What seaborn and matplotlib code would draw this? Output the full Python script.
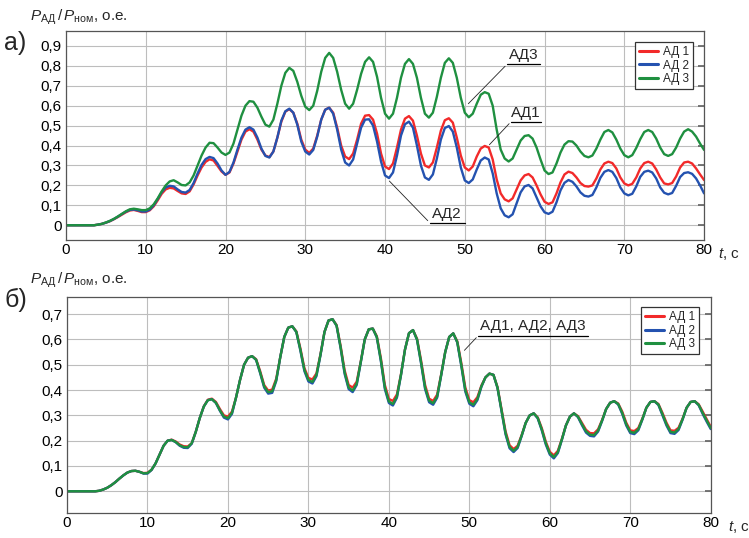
import numpy as np
import matplotlib
matplotlib.use("Agg")
import matplotlib.pyplot as plt
import seaborn as sns
from matplotlib.ticker import FuncFormatter

sns.set_theme(style="whitegrid")
plt.rcParams['font.family'] = ['Liberation Sans', 'DejaVu Sans']
plt.rcParams['mathtext.fontset'] = 'custom'
plt.rcParams['mathtext.rm'] = 'Liberation Sans'
plt.rcParams['mathtext.it'] = 'Liberation Sans:italic'

# время, с (шаг 0,5 с)
t = np.arange(0, 80.5, 0.5)

# а) P_АД / P_ном, о.е.
a_ad1 = [0, 0, 0, 0, 0, 0, 0, 0, 0.003, 0.007,
         0.013, 0.02, 0.03, 0.041, 0.053, 0.065, 0.074, 0.077, 0.072, 0.066,
         0.066, 0.075, 0.095, 0.125, 0.158, 0.18, 0.188, 0.185, 0.172, 0.16,
         0.157, 0.17, 0.205, 0.25, 0.29, 0.318, 0.331, 0.325, 0.298, 0.27,
         0.253, 0.265, 0.31, 0.37, 0.43, 0.47, 0.482, 0.47, 0.43, 0.38,
         0.35, 0.342, 0.37, 0.44, 0.52, 0.57, 0.583, 0.565, 0.51, 0.43,
         0.38, 0.363, 0.385, 0.45, 0.53, 0.58, 0.59, 0.565, 0.49, 0.4,
         0.345, 0.332, 0.36, 0.43, 0.51, 0.55, 0.553, 0.53, 0.46, 0.36,
         0.295, 0.282, 0.31, 0.39, 0.48, 0.535, 0.548, 0.525, 0.45, 0.36,
         0.3, 0.29, 0.315, 0.39, 0.475, 0.527, 0.537, 0.515, 0.44, 0.35,
         0.29, 0.275, 0.295, 0.345, 0.385, 0.398, 0.39, 0.33, 0.23, 0.16,
         0.13, 0.12, 0.135, 0.18, 0.225, 0.25, 0.257, 0.24, 0.2, 0.155,
         0.118, 0.107, 0.115, 0.16, 0.215, 0.255, 0.269, 0.262, 0.24, 0.212,
         0.197, 0.194, 0.2, 0.235, 0.28, 0.31, 0.319, 0.312, 0.285, 0.24,
         0.21, 0.2, 0.208, 0.24, 0.285, 0.312, 0.319, 0.31, 0.28, 0.24,
         0.21, 0.205, 0.212, 0.245, 0.29, 0.315, 0.319, 0.31, 0.285, 0.255,
         0.227]

a_ad2 = [0, 0, 0, 0, 0, 0, 0, 0, 0.003, 0.007,
         0.013, 0.021, 0.031, 0.043, 0.056, 0.068, 0.077, 0.079, 0.075, 0.069,
         0.069, 0.078, 0.1, 0.132, 0.166, 0.19, 0.198, 0.195, 0.18, 0.167,
         0.164, 0.177, 0.212, 0.26, 0.303, 0.332, 0.343, 0.337, 0.31, 0.275,
         0.253, 0.268, 0.315, 0.38, 0.44, 0.48, 0.492, 0.48, 0.44, 0.385,
         0.348, 0.34, 0.37, 0.44, 0.525, 0.572, 0.585, 0.565, 0.505, 0.42,
         0.37, 0.355, 0.378, 0.445, 0.53, 0.58, 0.59, 0.56, 0.48, 0.38,
         0.315, 0.3, 0.33, 0.41, 0.49, 0.53, 0.532, 0.5, 0.42, 0.32,
         0.25, 0.237, 0.265, 0.35, 0.45, 0.507, 0.52, 0.49, 0.4, 0.3,
         0.24, 0.228, 0.255, 0.335, 0.43, 0.488, 0.498, 0.47, 0.39, 0.29,
         0.225, 0.212, 0.23, 0.28, 0.325, 0.34, 0.33, 0.26, 0.16, 0.085,
         0.05, 0.04, 0.055, 0.11, 0.165, 0.195, 0.202, 0.185, 0.14, 0.095,
         0.065, 0.057, 0.068, 0.115, 0.175, 0.213, 0.227, 0.218, 0.195, 0.165,
         0.148, 0.144, 0.152, 0.19, 0.238, 0.268, 0.277, 0.268, 0.237, 0.19,
         0.16, 0.15, 0.158, 0.195, 0.243, 0.268, 0.274, 0.265, 0.235, 0.19,
         0.163, 0.155, 0.162, 0.198, 0.242, 0.262, 0.266, 0.258, 0.235, 0.2,
         0.16]

a_ad3 = [0, 0, 0, 0, 0, 0, 0, 0, 0.003, 0.007,
         0.014, 0.022, 0.032, 0.044, 0.057, 0.07, 0.08, 0.083, 0.08, 0.076,
         0.076, 0.085, 0.105, 0.135, 0.17, 0.2, 0.22, 0.226, 0.215, 0.202,
         0.2, 0.215, 0.25, 0.3, 0.35, 0.39, 0.414, 0.412, 0.39, 0.365,
         0.353, 0.365, 0.41, 0.48, 0.55, 0.6, 0.623, 0.62, 0.59, 0.545,
         0.505, 0.495, 0.53, 0.61, 0.7, 0.765, 0.79, 0.775, 0.72, 0.65,
         0.595, 0.578, 0.6, 0.675, 0.77, 0.84, 0.865, 0.84, 0.77, 0.68,
         0.61, 0.585, 0.61, 0.68, 0.76, 0.82, 0.843, 0.82, 0.745, 0.64,
         0.56, 0.535, 0.56, 0.64, 0.74, 0.81, 0.834, 0.81, 0.74, 0.64,
         0.56, 0.54, 0.565, 0.645, 0.74, 0.815, 0.838, 0.815, 0.74, 0.64,
         0.565, 0.542, 0.56, 0.61, 0.655, 0.668, 0.66, 0.6, 0.48, 0.38,
         0.335, 0.32, 0.335, 0.38, 0.425, 0.448, 0.452, 0.435, 0.39, 0.33,
         0.275, 0.257, 0.265, 0.31, 0.365, 0.405, 0.422, 0.42, 0.4, 0.37,
         0.348, 0.341, 0.35, 0.385, 0.43, 0.468, 0.478, 0.466, 0.43, 0.385,
         0.352, 0.341, 0.352, 0.388, 0.432, 0.468, 0.478, 0.468, 0.435, 0.39,
         0.357, 0.348, 0.357, 0.39, 0.435, 0.47, 0.482, 0.47, 0.445, 0.41,
         0.378]

# б) P_АД / P_ном, о.е.
b_ad1 = [0, 0, 0, 0, 0, 0, 0, 0, 0.002, 0.007,
         0.014, 0.024, 0.036, 0.05, 0.063, 0.074, 0.08, 0.081, 0.077, 0.072,
         0.073, 0.085, 0.11, 0.145, 0.18, 0.2, 0.204, 0.197, 0.185, 0.178,
         0.177, 0.19, 0.235, 0.29, 0.336, 0.362, 0.366, 0.353, 0.325, 0.3,
         0.295, 0.315, 0.37, 0.44, 0.5, 0.528, 0.534, 0.522, 0.475, 0.42,
         0.398, 0.402, 0.445, 0.53, 0.61, 0.647, 0.652, 0.632, 0.565, 0.487,
         0.448, 0.442, 0.466, 0.542, 0.63, 0.675, 0.68, 0.657, 0.575, 0.478,
         0.42, 0.41, 0.433, 0.512, 0.6, 0.64, 0.643, 0.613, 0.527, 0.42,
         0.365, 0.357, 0.383, 0.462, 0.56, 0.625, 0.637, 0.603, 0.517, 0.42,
         0.366, 0.357, 0.382, 0.462, 0.55, 0.61, 0.624, 0.593, 0.507, 0.41,
         0.36, 0.352, 0.372, 0.418, 0.45, 0.465, 0.46, 0.412, 0.325, 0.237,
         0.182, 0.167, 0.18, 0.222, 0.27, 0.3, 0.308, 0.292, 0.25, 0.196,
         0.156, 0.142, 0.16, 0.207, 0.26, 0.295, 0.308, 0.297, 0.27, 0.243,
         0.23, 0.229, 0.245, 0.282, 0.325, 0.35, 0.356, 0.347, 0.315, 0.271,
         0.241, 0.238, 0.25, 0.287, 0.33, 0.353, 0.356, 0.345, 0.31, 0.271,
         0.241, 0.239, 0.251, 0.287, 0.33, 0.353, 0.356, 0.344, 0.315, 0.285,
         0.255]

b_ad2 = [0, 0, 0, 0, 0, 0, 0, 0, 0.002, 0.007,
         0.014, 0.024, 0.036, 0.05, 0.063, 0.074, 0.08, 0.081, 0.077, 0.07,
         0.07, 0.084, 0.11, 0.145, 0.18, 0.2, 0.203, 0.194, 0.18, 0.172,
         0.171, 0.188, 0.235, 0.29, 0.335, 0.36, 0.364, 0.349, 0.318, 0.291,
         0.284, 0.306, 0.37, 0.44, 0.5, 0.528, 0.534, 0.519, 0.467, 0.41,
         0.386, 0.389, 0.436, 0.53, 0.61, 0.647, 0.652, 0.629, 0.556, 0.475,
         0.434, 0.426, 0.455, 0.538, 0.63, 0.675, 0.68, 0.654, 0.566, 0.464,
         0.404, 0.392, 0.42, 0.508, 0.6, 0.64, 0.643, 0.608, 0.515, 0.404,
         0.349, 0.339, 0.37, 0.458, 0.56, 0.625, 0.637, 0.598, 0.505, 0.404,
         0.352, 0.342, 0.37, 0.458, 0.55, 0.61, 0.624, 0.588, 0.495, 0.394,
         0.346, 0.336, 0.36, 0.413, 0.45, 0.465, 0.46, 0.408, 0.316, 0.225,
         0.17, 0.155, 0.171, 0.218, 0.27, 0.3, 0.308, 0.288, 0.241, 0.185,
         0.145, 0.13, 0.151, 0.203, 0.26, 0.295, 0.308, 0.293, 0.261, 0.232,
         0.219, 0.217, 0.236, 0.278, 0.325, 0.35, 0.356, 0.343, 0.306, 0.26,
         0.23, 0.226, 0.241, 0.283, 0.33, 0.353, 0.356, 0.341, 0.301, 0.26,
         0.23, 0.227, 0.242, 0.283, 0.33, 0.353, 0.356, 0.34, 0.306, 0.275,
         0.246]

b_ad3 = [0, 0, 0, 0, 0, 0, 0, 0, 0.002, 0.007,
         0.014, 0.024, 0.036, 0.05, 0.063, 0.074, 0.08, 0.081, 0.077, 0.071,
         0.072, 0.085, 0.11, 0.145, 0.18, 0.2, 0.203, 0.195, 0.182, 0.175,
         0.174, 0.19, 0.235, 0.29, 0.335, 0.36, 0.364, 0.35, 0.32, 0.295,
         0.289, 0.31, 0.37, 0.44, 0.5, 0.528, 0.534, 0.52, 0.47, 0.415,
         0.392, 0.395, 0.44, 0.53, 0.61, 0.647, 0.652, 0.63, 0.56, 0.48,
         0.44, 0.432, 0.46, 0.54, 0.63, 0.675, 0.68, 0.655, 0.57, 0.47,
         0.41, 0.398, 0.425, 0.51, 0.6, 0.64, 0.643, 0.61, 0.52, 0.41,
         0.355, 0.345, 0.375, 0.46, 0.56, 0.625, 0.637, 0.6, 0.51, 0.41,
         0.358, 0.348, 0.375, 0.46, 0.55, 0.61, 0.624, 0.59, 0.5, 0.4,
         0.352, 0.342, 0.365, 0.415, 0.45, 0.465, 0.46, 0.41, 0.32, 0.23,
         0.175, 0.16, 0.175, 0.22, 0.27, 0.3, 0.308, 0.29, 0.245, 0.19,
         0.15, 0.135, 0.155, 0.205, 0.26, 0.295, 0.308, 0.295, 0.265, 0.237,
         0.224, 0.222, 0.24, 0.28, 0.325, 0.35, 0.356, 0.345, 0.31, 0.265,
         0.235, 0.231, 0.245, 0.285, 0.33, 0.353, 0.356, 0.343, 0.305, 0.265,
         0.235, 0.232, 0.246, 0.285, 0.33, 0.353, 0.356, 0.342, 0.31, 0.28,
         0.25]

labels = ['АД 1', 'АД 2', 'АД 3']
colors = ['#f22a2a', '#2452b0', '#1f9040']
x_ticks = list(range(0, 81, 10))
a_yticks = [0, 0.1, 0.2, 0.3, 0.4, 0.5, 0.6, 0.7, 0.8, 0.9]
b_yticks = [0, 0.1, 0.2, 0.3, 0.4, 0.5, 0.6, 0.7]

comma = FuncFormatter(lambda v, p: '0' if abs(v) < 1e-9 else f'{v:.1f}'.replace('.', ','))

fig = plt.figure(figsize=(7.49, 5.38), dpi=100)
ax1 = fig.add_axes([0.0881, 0.5539, 0.8519, 0.3885])
ax2 = fig.add_axes([0.0895, 0.0459, 0.8594, 0.4026])


def style(ax, yticks, ylim):
    ax.set_facecolor('white')
    ax.set_xlim(0, 80)
    ax.set_ylim(*ylim)
    ax.set_xticks(x_ticks)
    ax.set_yticks(yticks)
    ax.yaxis.set_major_formatter(comma)
    ax.grid(True, color='#bdbdbd', lw=0.8)
    ax.tick_params(axis='both', labelsize=11, colors='black')
    ax.tick_params(axis='y', direction='in', right=True, left=False,
                   length=4, color='#666666', pad=3)
    ax.tick_params(axis='x', bottom=False, length=0, pad=2)
    for s in ax.spines.values():
        s.set_color('#555555')
        s.set_linewidth(0.9)
    ax.set_xlabel('')
    ax.set_ylabel('')


for ys, lab, c in zip([a_ad1, a_ad2, a_ad3], labels, colors):
    sns.lineplot(x=t, y=ys, ax=ax1, color=c, lw=1.7, label=lab)
for ys, lab, c in zip([b_ad1, b_ad2, b_ad3], labels, colors):
    sns.lineplot(x=t, y=ys, ax=ax2, color=c, lw=1.7, label=lab)

style(ax1, a_yticks, (-0.074, 0.975))
style(ax2, b_yticks, (-0.087, 0.769))

for ax, anchor in [(ax1, (0.983, 0.947)), (ax2, (0.982, 0.952))]:
    leg = ax.legend(loc='upper right', bbox_to_anchor=anchor, borderaxespad=0,
                    fontsize=8.5, frameon=True, fancybox=False, framealpha=1,
                    edgecolor='#333333', handlelength=1.6, handletextpad=0.4,
                    labelspacing=0.12, borderpad=0.35)
    leg.get_frame().set_linewidth(0.9)
    for h in leg.get_lines():
        h.set_linewidth(2.2)

# подписи кривых
line_kw = dict(arrowprops=dict(arrowstyle='-', lw=0.6, color='#222222'))
ax1.annotate('', xy=(50.2, 0.6), xytext=(55.3, 0.808), **line_kw)
ax1.plot([55.3, 59.4], [0.808, 0.808], color='black', lw=0.9)
ax1.text(57.35, 0.818, 'АД3', ha='center', va='bottom', fontsize=11)

ax1.annotate('', xy=(52.85, 0.394), xytext=(55.8, 0.52), **line_kw)
ax1.plot([55.8, 59.6], [0.52, 0.52], color='black', lw=0.9)
ax1.text(57.7, 0.53, 'АД1', ha='center', va='bottom', fontsize=11)

ax1.annotate('', xy=(40.3, 0.232), xytext=(45.6, 0.013), **line_kw)
ax1.plot([45.6, 50.0], [0.013, 0.013], color='black', lw=0.9)
ax1.text(47.8, 0.023, 'АД2', ha='center', va='bottom', fontsize=11)

ax2.annotate('', xy=(49.15, 0.549), xytext=(51.1, 0.615), **line_kw)
ax2.plot([51.1, 64.8], [0.615, 0.615], color='black', lw=0.9)
ax2.text(57.9, 0.625, 'АД1, АД2, АД3', ha='center', va='bottom', fontsize=11)

# подписи осей и панелей
ylab = r'$P_{\mathrm{АД}}\,/\,P_{\mathrm{ном}}$, о.е.'
fig.text(30 / 749, 1 - 21 / 538, ylab, fontsize=11, va='baseline')
fig.text(30 / 749, 1 - 284 / 538, ylab, fontsize=11, va='baseline')
fig.text(4 / 749, 1 - 43 / 538, 'а)', fontsize=18, va='center')
fig.text(4 / 749, 1 - 300 / 538, 'б)', fontsize=18, va='center')
fig.text(718 / 749, 1 - 258 / 538, r'$t$, с', fontsize=11, va='baseline')
fig.text(728 / 749, 1 - 531 / 538, r'$t$, с', fontsize=11, va='baseline')

fig.savefig('out.png', dpi=100)
